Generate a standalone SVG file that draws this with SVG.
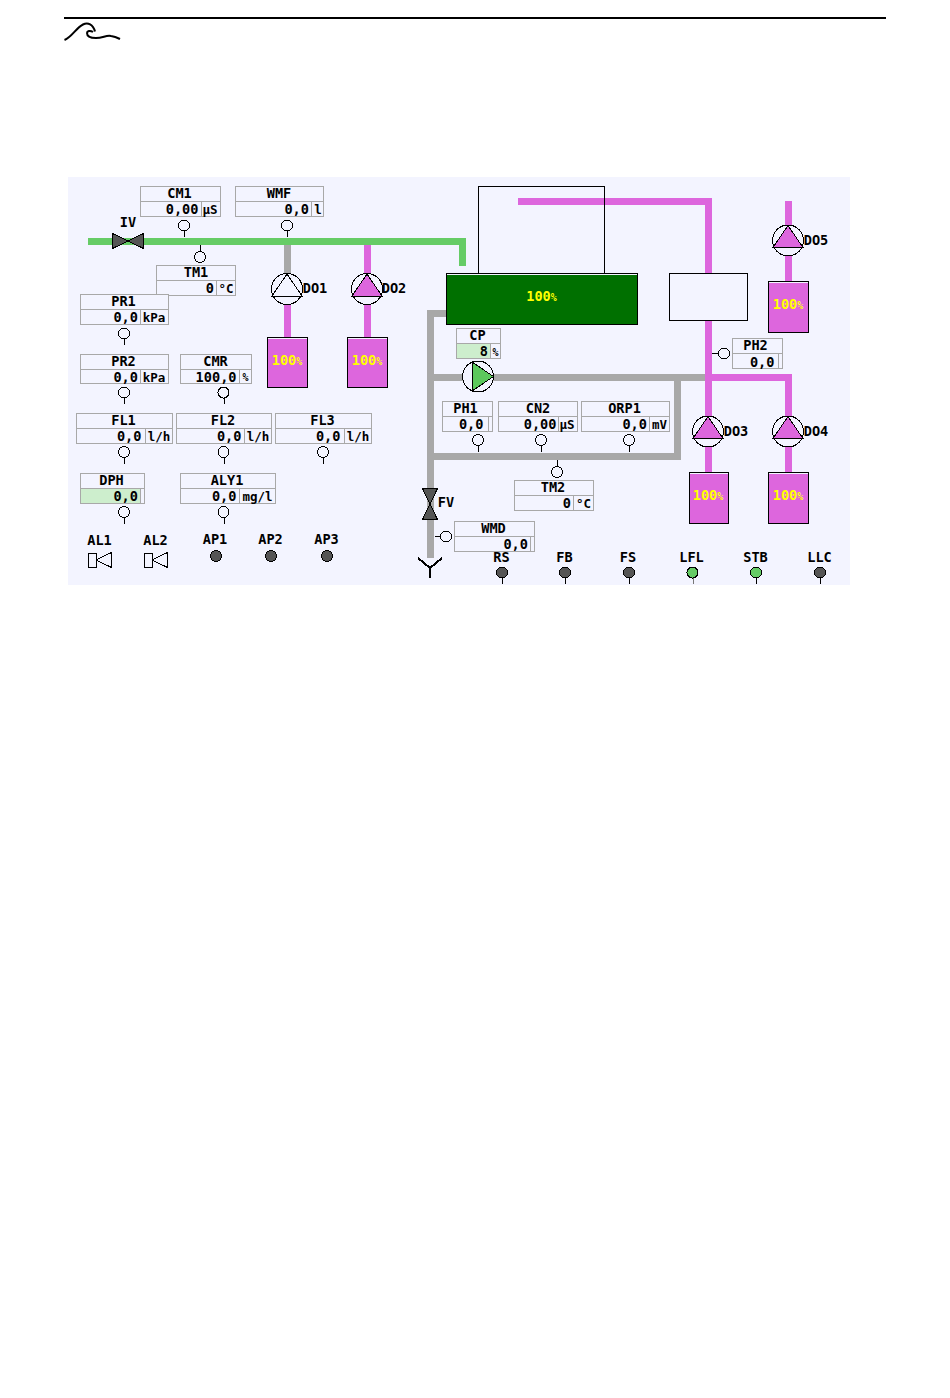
<svg xmlns="http://www.w3.org/2000/svg" width="950" height="1398" viewBox="0 0 950 1398">
<style>
rect,path,circle,line{shape-rendering:crispEdges}
text{font-family:"DejaVu Sans Mono","Liberation Mono",monospace;font-weight:700;font-size:13.6px;fill:#000;text-anchor:middle}
.r{text-anchor:end}
.u{font-size:12.5px}
.p{font-size:10px}
.y{fill:#ff0}
.b{fill:#f3f4ff;stroke:#a8a8a8;stroke-width:1}
.l{stroke:#a8a8a8;stroke-width:1;fill:none}
.s{fill:#f3f4ff;stroke:#000;stroke-width:1}
.k{stroke:#000;stroke-width:1;fill:none}
.d{stroke:#000;stroke-width:2;fill:none}
.v{fill:#555;stroke:#000;stroke-width:1}
.g{fill:#66cc66}.m{fill:#dd66dd}.a{fill:#a8a8a8}
.t{fill:#dd66dd;stroke:#000;stroke-width:1}
.h{stroke:#f3f4ff;stroke-width:1;fill:none}
.f{fill:#cdeecd}
#logo path{shape-rendering:auto}
</style>
<rect width="950" height="1398" fill="#fff"/>
<rect x="68" y="177" width="782" height="408" fill="#f3f4ff"/>
<g id="logo">
<rect x="64" y="17" width="822" height="2" fill="#000"/>
<path d="M64.500 40C72 37 76 28 83 24.500C88 22 93 24.500 95 31.500M93 32C90 30 87 31 87 33C87 37 92 38 96 38C103 38 106 35 111 36C115 36.500 118 38 120 39" fill="none" stroke="#000" stroke-width="2"/>
</g>
<g id="connectors">
<rect class="a" x="284" y="245" width="7" height="28"/>
<rect class="g" x="88" y="238" width="378" height="7"/>
<rect class="g" x="459" y="238" width="7" height="28"/>
<rect class="m" x="284" y="304" width="7" height="33"/>
<rect class="m" x="364" y="245" width="7" height="92"/>
<rect class="m" x="518" y="198" width="194" height="7"/>
<rect class="m" x="705" y="198" width="7" height="274"/>
<rect class="m" x="705" y="374" width="87" height="7"/>
<rect class="m" x="785" y="374" width="7" height="98"/>
<rect class="m" x="785" y="201" width="7" height="80"/>
<rect class="a" x="427" y="310" width="7" height="248"/>
<rect class="a" x="427" y="310" width="19" height="7"/>
<rect class="a" x="427" y="374" width="278" height="7"/>
<rect class="a" x="674" y="374" width="7" height="86"/>
<rect class="a" x="427" y="453" width="254" height="7"/>
<path class="d" d="M418 558L430 568L442 558M430 568V578"/>
</g>
<g id="tank-top"><rect x="478.500" y="186.500" width="126" height="87" fill="none" stroke="#000"/></g>
<g id="tank-main"><rect x="446.500" y="273.500" width="191" height="51" fill="#007000" stroke="#000"/><path class="h" d="M447 274.500H637"/><text class="y" x="541.500" y="300.500">100<tspan class="p">%</tspan></text></g>
<g id="tank-mid"><rect class="s" x="669.500" y="273.500" width="78" height="47"/></g>
<g id="DO1"><circle class="s" cx="287" cy="289" r="15.500"/><path fill="#f3f4ff" stroke="#000" d="M287 274L272 296H302Z"/><text x="315" y="293">DO1</text><rect class="t" x="267.500" y="337.500" width="40" height="50"/><path class="h" d="M268 338.500H307"/><text class="y" x="287" y="365">100<tspan class="p">%</tspan></text></g>
<g id="DO2"><circle class="s" cx="367" cy="289" r="15.500"/><path class="t" d="M367 274L352 296H382Z"/><text x="394" y="293">DO2</text><rect class="t" x="347.500" y="337.500" width="40" height="50"/><path class="h" d="M348 338.500H387"/><text class="y" x="367" y="365">100<tspan class="p">%</tspan></text></g>
<g id="DO5"><circle class="s" cx="788" cy="240.500" r="15.500"/><path class="t" d="M788 225.500L773 247.500H803Z"/><text x="816" y="244.500">DO5</text><rect class="t" x="768.500" y="281.500" width="40" height="51"/><path class="h" d="M769 282.500H808"/><text class="y" x="788" y="309">100<tspan class="p">%</tspan></text></g>
<g id="DO3"><circle class="s" cx="708" cy="431.500" r="15.500"/><path class="t" d="M708 416.500L693 438.500H723Z"/><text x="736" y="435.500">DO3</text><rect class="t" x="689.500" y="472.500" width="39" height="51"/><path class="h" d="M690 473.500H728"/><text class="y" x="708" y="500">100<tspan class="p">%</tspan></text></g>
<g id="DO4"><circle class="s" cx="788" cy="431.500" r="15.500"/><path class="t" d="M788 416.500L773 438.500H803Z"/><text x="816" y="435.500">DO4</text><rect class="t" x="768.500" y="472.500" width="40" height="51"/><path class="h" d="M769 473.500H808"/><text class="y" x="788" y="500">100<tspan class="p">%</tspan></text></g>
<g id="CP-pump"><circle class="s" cx="478" cy="376.500" r="15.500"/><path fill="#5cc85c" stroke="#000" d="M472 362L493.500 376.500L472 391Z"/></g>
<g id="IV"><path class="v" d="M112.500 233.500V248.500L128 241ZM143.500 233.500V248.500L128 241Z"/><text x="128" y="226.500">IV</text></g>
<g id="FV"><path class="v" d="M422.500 488.500H437.500L430 504ZM422.500 519.500H437.500L430 504Z"/><text x="446" y="507">FV</text></g>
<g id="CM1"><rect class="b" x="140.500" y="186.500" width="80" height="30"/><path class="l" d="M140.500 201.500H220.500M201 201.500V216.500"/><text x="179.500" y="198">CM1</text><text class="r" x="198.500" y="214">0,00</text><text class="u" x="210" y="214">µS</text><circle class="s" cx="184" cy="225.500" r="5.500"/><path class="k" d="M184.500 231V237"/></g>
<g id="WMF"><rect class="b" x="235.500" y="186.500" width="88" height="30"/><path class="l" d="M235.500 201.500H323.500M311.500 201.500V216.500"/><text x="279" y="198">WMF</text><text class="r" x="309" y="214">0,0</text><text class="u" x="318" y="214">l</text><circle class="s" cx="287" cy="225.500" r="5.500"/><path class="k" d="M287.500 231V237"/></g>
<g id="TM1"><rect class="b" x="156.500" y="265.500" width="79" height="30"/><path class="l" d="M156.500 280.500H235.500M216.500 280.500V295.500"/><text x="196" y="277">TM1</text><text class="r" x="214" y="293">0</text><text class="u" x="226" y="293">°C</text><circle class="s" cx="200" cy="257" r="5.500"/><path class="k" d="M200.500 245V251"/></g>
<g id="PR1"><rect class="b" x="80.500" y="294.500" width="88" height="30"/><path class="l" d="M80.500 309.500H168.500M140.500 309.500V324.500"/><text x="123.500" y="306">PR1</text><text class="r" x="138" y="322">0,0</text><text class="u" x="154" y="322">kPa</text><circle class="s" cx="124" cy="333.500" r="5.500"/><path class="k" d="M124.500 339V345"/></g>
<g id="PR2"><rect class="b" x="80.500" y="354.500" width="88" height="29"/><path class="l" d="M80.500 369.500H168.500M140.500 369.500V383.500"/><text x="123.500" y="366">PR2</text><text class="r" x="138" y="382">0,0</text><text class="u" x="154" y="382">kPa</text><circle class="s" cx="124" cy="392.500" r="5.500"/><path class="k" d="M124.500 398V404"/></g>
<g id="CMR"><rect class="b" x="180.500" y="354.500" width="71" height="29"/><path class="l" d="M180.500 369.500H251.500M239.500 369.500V383.500"/><text x="215.500" y="366">CMR</text><text class="r" x="236.500" y="382">100,0</text><text class="p" x="245.500" y="381">%</text><circle class="s" cx="223.500" cy="392.500" r="5.500"/><path class="k" d="M224 398V404"/></g>
<g id="FL1"><rect class="b" x="76.500" y="413.500" width="96" height="30"/><path class="l" d="M76.500 428.500H172.500M145 428.500V443.500"/><text x="123.500" y="425">FL1</text><text class="r" x="141.500" y="440.500">0,0</text><text class="u" x="159" y="440.500">l/h</text><circle class="s" cx="124" cy="452" r="5.500"/><path class="k" d="M124.500 458V464"/></g>
<g id="FL2"><rect class="b" x="176.500" y="413.500" width="95" height="30"/><path class="l" d="M176.500 428.500H271.500M244.500 428.500V443.500"/><text x="223" y="425">FL2</text><text class="r" x="241.500" y="440.500">0,0</text><text class="u" x="258" y="440.500">l/h</text><circle class="s" cx="223.500" cy="452" r="5.500"/><path class="k" d="M224 458V464"/></g>
<g id="FL3"><rect class="b" x="275.500" y="413.500" width="96" height="30"/><path class="l" d="M275.500 428.500H371.500M344 428.500V443.500"/><text x="322.500" y="425">FL3</text><text class="r" x="340.500" y="440.500">0,0</text><text class="u" x="358" y="440.500">l/h</text><circle class="s" cx="323" cy="452" r="5.500"/><path class="k" d="M323.500 458V464"/></g>
<g id="DPH"><rect class="b" x="80.500" y="473.500" width="64" height="30"/><rect class="f" x="81" y="489" width="59.500" height="14"/><path class="l" d="M80.500 488.500H144.500M140.500 488.500V503.500"/><text x="111.500" y="485">DPH</text><text class="r" x="138" y="500.500">0,0</text><circle class="s" cx="124" cy="512" r="5.500"/><path class="k" d="M124.500 518V524"/></g>
<g id="ALY1"><rect class="b" x="180.500" y="473.500" width="95" height="30"/><path class="l" d="M180.500 488.500H275.500M239.500 488.500V503.500"/><text x="227" y="485">ALY1</text><text class="r" x="236.500" y="500.500">0,0</text><text class="u" x="257.500" y="500.500">mg/l</text><circle class="s" cx="223.500" cy="512" r="5.500"/><path class="k" d="M224 518V524"/></g>
<g id="CP"><rect class="b" x="456.500" y="328.500" width="44" height="30"/><rect class="f" x="457" y="344" width="33" height="14"/><path class="l" d="M456.500 343.500H500.500M490 343.500V358.500"/><text x="477.500" y="340">CP</text><text class="r" x="488" y="356">8</text><text class="p" x="495.500" y="355.500">%</text></g>
<g id="PH1"><rect class="b" x="442.500" y="401.500" width="50" height="30"/><path class="l" d="M442.500 416.500H492.500M488.500 416.500V431.500"/><text x="465.500" y="413">PH1</text><text class="r" x="483.500" y="429">0,0</text><circle class="s" cx="478" cy="440" r="5.500"/><path class="k" d="M478.500 446V452"/></g>
<g id="CN2"><rect class="b" x="498.500" y="401.500" width="79" height="30"/><path class="l" d="M498.500 416.500H577.500M558 416.500V431.500"/><text x="538" y="413">CN2</text><text class="r" x="556.500" y="429">0,00</text><text class="u" x="567" y="429">µS</text><circle class="s" cx="541" cy="440" r="5.500"/><path class="k" d="M541.500 446V452"/></g>
<g id="ORP1"><rect class="b" x="581.500" y="401.500" width="88" height="30"/><path class="l" d="M581.500 416.500H669.500M649.500 416.500V431.500"/><text x="624.500" y="413">ORP1</text><text class="r" x="647" y="429">0,0</text><text class="u" x="659.500" y="429">mV</text><circle class="s" cx="629" cy="440" r="5.500"/><path class="k" d="M629.500 446V452"/></g>
<g id="TM2"><rect class="b" x="514.500" y="480.500" width="79" height="30"/><path class="l" d="M514.500 495.500H593.500M573.500 495.500V510.500"/><text x="553" y="492">TM2</text><text class="r" x="571" y="508">0</text><text class="u" x="583.500" y="508">°C</text><circle class="s" cx="557" cy="472" r="5.500"/><path class="k" d="M557.500 460V466"/></g>
<g id="WMD"><rect class="b" x="454.500" y="521.500" width="80" height="30"/><path class="l" d="M454.500 536.500H534.500M530.500 536.500V551.500"/><text x="493.500" y="533">WMD</text><text class="r" x="528" y="549">0,0</text><circle class="s" cx="446" cy="536.500" r="5.500"/><path class="k" d="M435 536.500H440"/></g>
<g id="PH2"><rect class="b" x="732.500" y="338.500" width="50" height="30"/><path class="l" d="M732.500 353.500H782.500M778.500 353.500V368.500"/><text x="755.500" y="350">PH2</text><text class="r" x="774.500" y="366.500">0,0</text><circle class="s" cx="724" cy="353.500" r="5.500"/><path class="k" d="M712 353.500H718"/></g>
<g id="AL1"><text x="99.500" y="545">AL1</text><path class="k" d="M88.500 553.500H96V567H88.500ZM96 560L111.500 552.500V567.500Z"/></g>
<g id="AL2"><text x="155.500" y="545">AL2</text><path class="k" d="M144.500 553.500H152V567H144.500ZM152 560L167.500 552.500V567.500Z"/></g>
<g id="AP1"><text x="215" y="544">AP1</text><circle class="v" cx="216" cy="556" r="5.500"/></g>
<g id="AP2"><text x="270.500" y="544">AP2</text><circle class="v" cx="271" cy="556" r="5.500"/></g>
<g id="AP3"><text x="326.500" y="544">AP3</text><circle class="v" cx="327" cy="556" r="5.500"/></g>
<g id="RS"><text x="501.500" y="562">RS</text><circle class="v" cx="502" cy="572.500" r="5.500"/><path class="k" d="M502.500 578V584"/></g>
<g id="FB"><text x="564.500" y="562">FB</text><circle class="v" cx="565" cy="572.500" r="5.500"/><path class="k" d="M565.500 578V584"/></g>
<g id="FS"><text x="628" y="562">FS</text><circle class="v" cx="629" cy="572.500" r="5.500"/><path class="k" d="M629.500 578V584"/></g>
<g id="LFL"><text x="691.500" y="562">LFL</text><circle cx="692.500" cy="572.500" r="5.500" fill="#66cc66" stroke="#000"/><path stroke="#777" fill="none" d="M693.500 578V584"/></g>
<g id="STB"><text x="755.500" y="562">STB</text><circle cx="756" cy="572.500" r="5.500" fill="#66cc66" stroke="#000"/><path class="k" d="M756.500 578V584"/></g>
<g id="LLC"><text x="819.500" y="562">LLC</text><circle class="v" cx="820" cy="572.500" r="5.500"/><path class="k" d="M820.500 578V584"/></g>
</svg>
